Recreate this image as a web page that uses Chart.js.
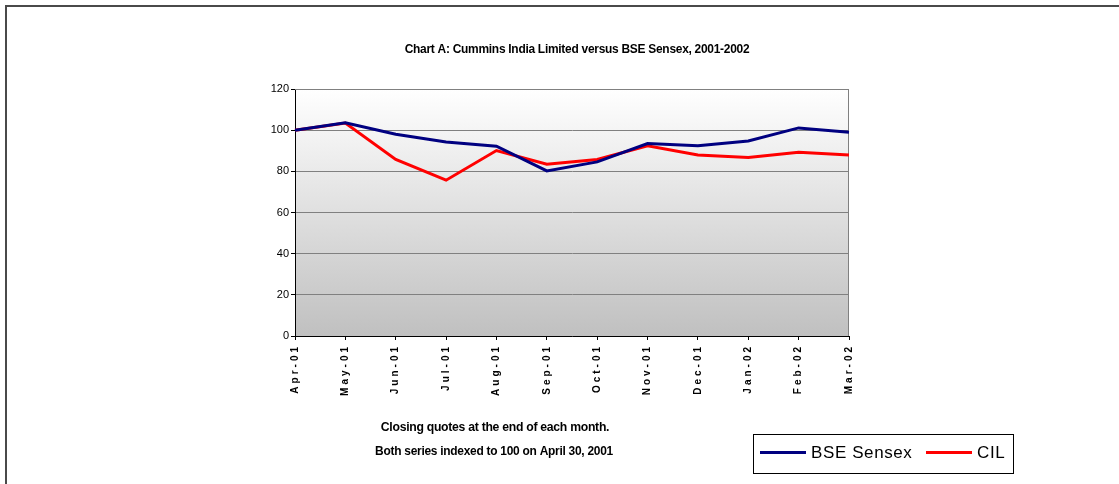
<!DOCTYPE html>
<html>
<head>
<meta charset="utf-8">
<script src="https://cdn.jsdelivr.net/npm/chart.js@4.4.1/dist/chart.umd.min.js"></script>
<style>
  html, body { margin: 0; padding: 0; background: #fff; }
  #wrap { position: relative; width: 1119px; height: 484px; }
  #frame { position: absolute; left: 5px; top: 5px; width: 1114px; height: 479px;
           border-left: 2px solid #4a4a4a; border-top: 2px solid #4a4a4a; box-sizing: border-box; }
</style>
</head>
<body>
<div id="wrap">
  <canvas id="myChart" width="1119" height="484"></canvas>
  <div id="frame"></div>
</div>
<script>
const months = ['Apr-01', 'May-01', 'Jun-01', 'Jul-01', 'Aug-01', 'Sep-01', 'Oct-01', 'Nov-01', 'Dec-01', 'Jan-02', 'Feb-02', 'Mar-02'];
const bseSensex = [100, 103.6, 98, 94.3, 92.2, 80.2, 84.6, 93.5, 92.4, 94.7, 101.1, 99];
const cil = [100, 103.5, 85.8, 75.7, 90.1, 83.5, 85.8, 92.4, 87.9, 86.7, 89.3, 87.9];
const yTicks = [0, 20, 40, 60, 80, 100, 120];

const titleText = 'Chart A: Cummins India Limited versus BSE Sensex, 2001-2002';
const noteLines = ['Closing quotes at the end of each month.', 'Both series indexed to 100 on April 30, 2001'];

// squeezed text, like the old excel export
function squished(ctx, text, cx, cy, font, sx) {
  ctx.save();
  ctx.font = font;
  ctx.fillStyle = '#000';
  ctx.textAlign = 'center';
  ctx.textBaseline = 'middle';
  ctx.translate(cx, cy);
  ctx.scale(sx, 1);
  ctx.letterSpacing = '-0.3px';
  ctx.fillText(text, 0, 0);
  ctx.restore();
}

const decor = {
  id: 'decor',
  beforeDraw(chart) {
    const { ctx, chartArea: a } = chart;
    const g = ctx.createLinearGradient(0, a.top, 0, a.bottom);
    g.addColorStop(0, '#ffffff');
    g.addColorStop(1, '#c0c0c0');
    ctx.save();
    ctx.fillStyle = g;
    ctx.fillRect(a.left, a.top, a.right - a.left, a.bottom - a.top);
    ctx.restore();
    // spaced-out month labels
    ctx.letterSpacing = '3px';
  },
  beforeDatasetsDraw(chart) {
    const { ctx, chartArea: a } = chart;
    ctx.letterSpacing = '0px';
    ctx.save();
    ctx.strokeStyle = '#808080';
    ctx.lineWidth = 1;
    ctx.beginPath();
    ctx.moveTo(a.left, a.top + 0.5);
    ctx.lineTo(a.right - 0.5, a.top + 0.5);
    ctx.lineTo(a.right - 0.5, a.bottom);
    ctx.stroke();
    ctx.restore();
  },
  afterDraw(chart) {
    const ctx = chart.ctx;
    squished(ctx, titleText, 577, 49, 'bold 13px "Liberation Sans"', 0.92);
    squished(ctx, noteLines[0], 495, 427, 'bold 13px "Liberation Sans"', 0.94);
    squished(ctx, noteLines[1], 494, 451, 'bold 13px "Liberation Sans"', 0.92);

    // legend box
    ctx.save();
    ctx.strokeStyle = '#000';
    ctx.lineWidth = 1;
    ctx.strokeRect(753.5, 434.5, 260, 39);
    const items = [
      { label: 'BSE Sensex', color: chart.data.datasets[0].borderColor, x: 760 },
      { label: 'CIL', color: chart.data.datasets[1].borderColor, x: 926 }
    ];
    ctx.font = '17px "Liberation Sans"';
    ctx.textBaseline = 'middle';
    ctx.letterSpacing = '0.6px';
    items.forEach(it => {
      ctx.strokeStyle = it.color;
      ctx.lineWidth = 3;
      ctx.beginPath();
      ctx.moveTo(it.x, 452.5);
      ctx.lineTo(it.x + 46, 452.5);
      ctx.stroke();
      ctx.fillStyle = '#000';
      ctx.fillText(it.label, it.x + 51, 453);
    });
    ctx.restore();
  }
};

const ctx = document.getElementById('myChart');

new Chart(ctx, {
  type: 'line',
  data: {
    labels: months,
    datasets: [{
      label: 'BSE Sensex',
      data: bseSensex,
      borderColor: '#000080',
      borderWidth: 3,
      pointRadius: 0,
      tension: 0
    }, {
      label: 'CIL',
      data: cil,
      borderColor: '#ff0000',
      borderWidth: 3,
      pointRadius: 0,
      tension: 0
    }]
  },
  options: {
    responsive: false,
    animation: false,
    layout: { padding: { left: 265, right: 270, top: 89, bottom: 0 } },
    plugins: {
      legend: { display: false },
      title: { display: false },
      tooltip: { enabled: false }
    },
    scales: {
      x: {
        offset: false,
        afterFit: (s) => { s.height = 148; },
        grid: { drawOnChartArea: false, drawTicks: true, tickLength: 4, tickColor: '#000' },
        border: { color: '#000', width: 1 },
        ticks: {
          minRotation: 90,
          maxRotation: 90,
          autoSkip: false,
          padding: 4,
          color: '#000',
          font: { family: '"Liberation Sans"', size: 10, weight: 'bold' }
        }
      },
      y: {
        min: 0,
        max: 120,
        afterFit: (s) => { s.width = 30; },
        afterBuildTicks: (s) => { s.ticks = yTicks.map(v => ({ value: v })); },
        grid: { color: '#808080', tickLength: 4, tickColor: '#000' },
        border: { color: '#000', width: 1 },
        ticks: {
          z: 1,
          padding: 2,
          color: '#000',
          font: { family: '"Liberation Sans"', size: 11 }
        }
      }
    }
  },
  plugins: [decor]
});
</script>
</body>
</html>
